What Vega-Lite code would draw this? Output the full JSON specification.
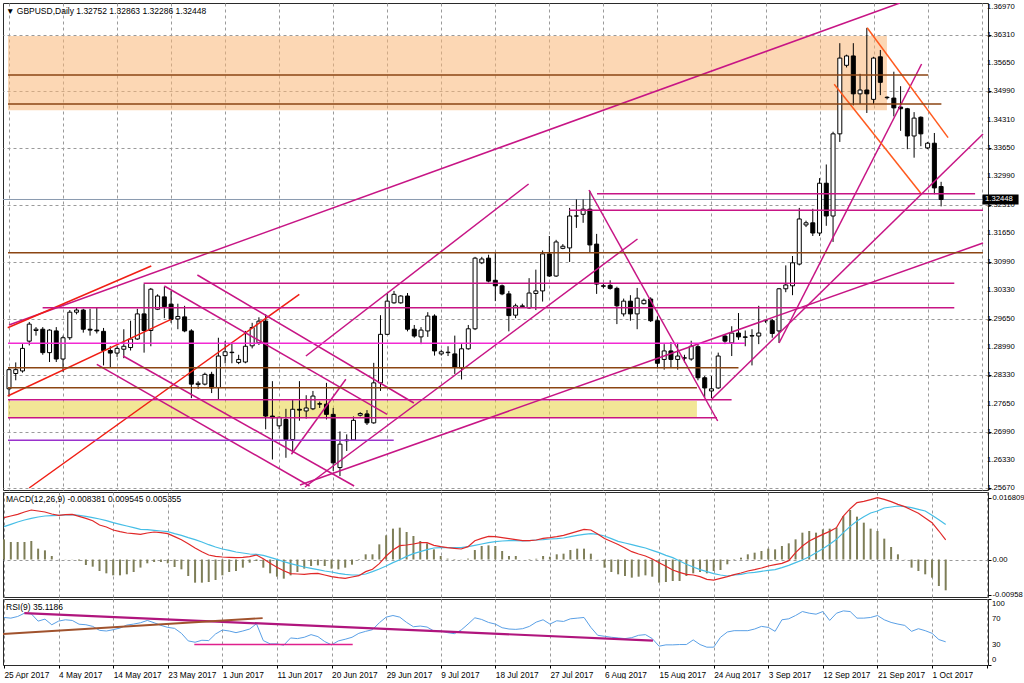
{
"$schema":"https://vega.github.io/schema/vega-lite/v6.json",
"background":"white",
"padding":{"left":2,"top":2,"right":0,"bottom":0},
"spacing":2,
"bounds":"flush",
"resolve":{"scale":{"color":"independent","strokeWidth":"independent"}},
"config":{
"view":{"stroke":"#2a2a2a","strokeWidth":1},
"font":"Liberation Sans",
"axis":{"labelFont":"Liberation Sans","labelColor":"#000","title":null,"domain":false,"gridColor":"#9a9a9a","gridDash":[3,3],"gridWidth":1,"tickColor":"#000","labelOverlap":false},
"title":{"font":"Liberation Sans","fontWeight":"normal","fontSize":8.5,"color":"#000","anchor":"start","frame":"group","orient":"top"}
},
"datasets":{
"candles":[
{"i":0,"o":1.2800,"h":1.2850,"l":1.2782,"c":1.2845},
{"i":1,"o":1.2836,"h":1.2862,"l":1.2820,"c":1.2845},
{"i":2,"o":1.2842,"h":1.2905,"l":1.2838,"c":1.2895},
{"i":3,"o":1.2912,"h":1.2957,"l":1.2902,"c":1.2952},
{"i":4,"o":1.2937,"h":1.2945,"l":1.2925,"c":1.2940},
{"i":5,"o":1.2940,"h":1.2945,"l":1.2880,"c":1.2885},
{"i":6,"o":1.2885,"h":1.2940,"l":1.2863,"c":1.2938},
{"i":7,"o":1.2936,"h":1.2945,"l":1.2863,"c":1.2870},
{"i":8,"o":1.2870,"h":1.2925,"l":1.2840,"c":1.2920},
{"i":9,"o":1.2920,"h":1.2985,"l":1.2915,"c":1.2980},
{"i":10,"o":1.2980,"h":1.2990,"l":1.2975,"c":1.2985},
{"i":11,"o":1.2985,"h":1.2988,"l":1.2932,"c":1.2940},
{"i":12,"o":1.2940,"h":1.2988,"l":1.2925,"c":1.2938},
{"i":13,"o":1.2938,"h":1.2990,"l":1.2930,"c":1.2936},
{"i":14,"o":1.2935,"h":1.2943,"l":1.2855,"c":1.2890},
{"i":15,"o":1.2890,"h":1.2900,"l":1.2850,"c":1.2884},
{"i":16,"o":1.2884,"h":1.2900,"l":1.2875,"c":1.2895},
{"i":17,"o":1.2893,"h":1.2940,"l":1.2872,"c":1.2900},
{"i":18,"o":1.2897,"h":1.2960,"l":1.2890,"c":1.2917},
{"i":19,"o":1.2917,"h":1.2988,"l":1.2915,"c":1.2976},
{"i":20,"o":1.2976,"h":1.3046,"l":1.2885,"c":1.2937},
{"i":21,"o":1.2937,"h":1.3037,"l":1.2900,"c":1.3034},
{"i":22,"o":1.2987,"h":1.3022,"l":1.2985,"c":1.3018},
{"i":23,"o":1.3016,"h":1.3040,"l":1.2966,"c":1.2993},
{"i":24,"o":1.2999,"h":1.3030,"l":1.2955,"c":1.2963},
{"i":25,"o":1.2964,"h":1.3000,"l":1.2940,"c":1.2970},
{"i":26,"o":1.2969,"h":1.2995,"l":1.2933,"c":1.2936},
{"i":27,"o":1.2936,"h":1.2940,"l":1.2778,"c":1.2811},
{"i":28,"o":1.2810,"h":1.2818,"l":1.2800,"c":1.2813},
{"i":29,"o":1.2811,"h":1.2838,"l":1.2808,"c":1.2834},
{"i":30,"o":1.2834,"h":1.2840,"l":1.2790,"c":1.2802},
{"i":31,"o":1.2803,"h":1.2920,"l":1.2776,"c":1.2877},
{"i":32,"o":1.2878,"h":1.2912,"l":1.2860,"c":1.2887},
{"i":33,"o":1.2886,"h":1.2910,"l":1.2860,"c":1.2885},
{"i":34,"o":1.2862,"h":1.2880,"l":1.2858,"c":1.2869},
{"i":35,"o":1.2863,"h":1.2936,"l":1.2860,"c":1.2900},
{"i":36,"o":1.2901,"h":1.2955,"l":1.2895,"c":1.2944},
{"i":37,"o":1.2908,"h":1.2968,"l":1.2903,"c":1.2959},
{"i":38,"o":1.2959,"h":1.2975,"l":1.2705,"c":1.2736},
{"i":39,"o":1.2736,"h":1.2818,"l":1.2634,"c":1.2732},
{"i":40,"o":1.2713,"h":1.2735,"l":1.2705,"c":1.2733},
{"i":41,"o":1.2728,"h":1.2753,"l":1.2638,"c":1.2681},
{"i":42,"o":1.2681,"h":1.2775,"l":1.2650,"c":1.2752},
{"i":43,"o":1.2752,"h":1.2818,"l":1.2725,"c":1.2750},
{"i":44,"o":1.2748,"h":1.2785,"l":1.2730,"c":1.2755},
{"i":45,"o":1.2753,"h":1.2795,"l":1.2750,"c":1.2783},
{"i":46,"o":1.2765,"h":1.2770,"l":1.2755,"c":1.2764},
{"i":47,"o":1.2764,"h":1.2814,"l":1.2728,"c":1.2740},
{"i":48,"o":1.2740,"h":1.2755,"l":1.2607,"c":1.2626},
{"i":49,"o":1.2615,"h":1.2700,"l":1.2595,"c":1.2670},
{"i":50,"o":1.2678,"h":1.2693,"l":1.2654,"c":1.2680},
{"i":51,"o":1.2680,"h":1.2735,"l":1.2678,"c":1.2726},
{"i":52,"o":1.2738,"h":1.2745,"l":1.2735,"c":1.2742},
{"i":53,"o":1.2741,"h":1.2750,"l":1.2715,"c":1.2720},
{"i":54,"o":1.2720,"h":1.2861,"l":1.2718,"c":1.2814},
{"i":55,"o":1.2814,"h":1.2973,"l":1.2795,"c":1.2928},
{"i":56,"o":1.2928,"h":1.3025,"l":1.2927,"c":1.3006},
{"i":57,"o":1.3002,"h":1.3030,"l":1.3000,"c":1.3022},
{"i":58,"o":1.3002,"h":1.3020,"l":1.3000,"c":1.3018},
{"i":59,"o":1.3018,"h":1.3025,"l":1.2935,"c":1.2940},
{"i":60,"o":1.2940,"h":1.2950,"l":1.2920,"c":1.2924},
{"i":61,"o":1.2922,"h":1.2945,"l":1.2905,"c":1.2938},
{"i":62,"o":1.2936,"h":1.2980,"l":1.2922,"c":1.2971},
{"i":63,"o":1.2971,"h":1.2975,"l":1.2878,"c":1.2889},
{"i":64,"o":1.2882,"h":1.2892,"l":1.2878,"c":1.2887},
{"i":65,"o":1.2885,"h":1.2900,"l":1.2877,"c":1.2886},
{"i":66,"o":1.2882,"h":1.2925,"l":1.2835,"c":1.2851},
{"i":67,"o":1.2849,"h":1.2905,"l":1.2822,"c":1.2894},
{"i":68,"o":1.2894,"h":1.2950,"l":1.2892,"c":1.2941},
{"i":69,"o":1.2941,"h":1.3110,"l":1.2938,"c":1.3107},
{"i":70,"o":1.3096,"h":1.3110,"l":1.3093,"c":1.3105},
{"i":71,"o":1.3107,"h":1.3115,"l":1.3050,"c":1.3053},
{"i":72,"o":1.3055,"h":1.3120,"l":1.3006,"c":1.3042},
{"i":73,"o":1.3042,"h":1.3045,"l":1.3020,"c":1.3023},
{"i":74,"o":1.3023,"h":1.3030,"l":1.2935,"c":1.2972},
{"i":75,"o":1.2973,"h":1.3000,"l":1.2966,"c":1.2995},
{"i":76,"o":1.2993,"h":1.3000,"l":1.2990,"c":1.2995},
{"i":77,"o":1.2990,"h":1.3060,"l":1.2988,"c":1.3025},
{"i":78,"o":1.3024,"h":1.3080,"l":1.2985,"c":1.3030},
{"i":79,"o":1.3030,"h":1.3125,"l":1.3005,"c":1.3117},
{"i":80,"o":1.3117,"h":1.3159,"l":1.3063,"c":1.3065},
{"i":81,"o":1.3065,"h":1.3150,"l":1.3063,"c":1.3145},
{"i":82,"o":1.3130,"h":1.3140,"l":1.3128,"c":1.3135},
{"i":83,"o":1.3131,"h":1.3225,"l":1.3098,"c":1.3206},
{"i":84,"o":1.3206,"h":1.3245,"l":1.3178,"c":1.3206},
{"i":85,"o":1.3210,"h":1.3245,"l":1.3190,"c":1.3222},
{"i":86,"o":1.3222,"h":1.3265,"l":1.3120,"c":1.3138},
{"i":87,"o":1.3140,"h":1.3164,"l":1.3023,"c":1.3046},
{"i":88,"o":1.3042,"h":1.3048,"l":1.3036,"c":1.3041},
{"i":89,"o":1.3043,"h":1.3055,"l":1.3033,"c":1.3036},
{"i":90,"o":1.3036,"h":1.3040,"l":1.2952,"c":1.2995},
{"i":91,"o":1.2976,"h":1.3012,"l":1.2970,"c":1.3006},
{"i":92,"o":1.3006,"h":1.3020,"l":1.2960,"c":1.2976},
{"i":93,"o":1.2976,"h":1.3037,"l":1.2940,"c":1.3013},
{"i":94,"o":1.3000,"h":1.3012,"l":1.2998,"c":1.3008},
{"i":95,"o":1.3011,"h":1.3015,"l":1.2957,"c":1.2960},
{"i":96,"o":1.2960,"h":1.2970,"l":1.2848,"c":1.2860},
{"i":97,"o":1.2869,"h":1.2905,"l":1.2845,"c":1.2889},
{"i":98,"o":1.2889,"h":1.2910,"l":1.2850,"c":1.2869},
{"i":99,"o":1.2869,"h":1.2908,"l":1.2845,"c":1.2877},
{"i":100,"o":1.2872,"h":1.2880,"l":1.2862,"c":1.2873},
{"i":101,"o":1.2870,"h":1.2913,"l":1.2866,"c":1.2900},
{"i":102,"o":1.2899,"h":1.2905,"l":1.2820,"c":1.2826},
{"i":103,"o":1.2826,"h":1.2830,"l":1.2780,"c":1.2802},
{"i":104,"o":1.2795,"h":1.2830,"l":1.2778,"c":1.2800},
{"i":105,"o":1.2802,"h":1.2885,"l":1.2800,"c":1.2877},
{"i":106,"o":1.2924,"h":1.2928,"l":1.2905,"c":1.2912},
{"i":107,"o":1.2908,"h":1.2947,"l":1.2877,"c":1.2931},
{"i":108,"o":1.2931,"h":1.2978,"l":1.2915,"c":1.2922},
{"i":109,"o":1.2922,"h":1.2937,"l":1.2900,"c":1.2921},
{"i":110,"o":1.2924,"h":1.2940,"l":1.2855,"c":1.2925},
{"i":111,"o":1.2924,"h":1.2995,"l":1.2905,"c":1.2931},
{"i":112,"o":1.2960,"h":1.2962,"l":1.2955,"c":1.2960},
{"i":113,"o":1.2960,"h":1.2964,"l":1.2920,"c":1.2930},
{"i":114,"o":1.2936,"h":1.3037,"l":1.2908,"c":1.3035},
{"i":115,"o":1.3035,"h":1.3090,"l":1.3027,"c":1.3044},
{"i":116,"o":1.3042,"h":1.3112,"l":1.3020,"c":1.3096},
{"i":117,"o":1.3093,"h":1.3225,"l":1.3090,"c":1.3199},
{"i":118,"o":1.3185,"h":1.3195,"l":1.3180,"c":1.3190},
{"i":119,"o":1.3190,"h":1.3223,"l":1.3159,"c":1.3166},
{"i":120,"o":1.3166,"h":1.3295,"l":1.3159,"c":1.3283},
{"i":121,"o":1.3283,"h":1.3327,"l":1.3183,"c":1.3206},
{"i":122,"o":1.3206,"h":1.3404,"l":1.3145,"c":1.3399},
{"i":123,"o":1.3399,"h":1.3612,"l":1.3380,"c":1.3577},
{"i":124,"o":1.3560,"h":1.3585,"l":1.3555,"c":1.3582},
{"i":125,"o":1.3582,"h":1.3612,"l":1.3466,"c":1.3493},
{"i":126,"o":1.3493,"h":1.3540,"l":1.3469,"c":1.3502},
{"i":127,"o":1.3502,"h":1.3648,"l":1.3448,"c":1.3493},
{"i":128,"o":1.3480,"h":1.3580,"l":1.3469,"c":1.3577},
{"i":129,"o":1.3580,"h":1.3596,"l":1.3490,"c":1.3520},
{"i":130,"o":1.3485,"h":1.3487,"l":1.3480,"c":1.3484},
{"i":131,"o":1.3483,"h":1.3545,"l":1.3440,"c":1.3460},
{"i":132,"o":1.3462,"h":1.3511,"l":1.3406,"c":1.3458},
{"i":133,"o":1.3458,"h":1.3460,"l":1.3363,"c":1.3394},
{"i":134,"o":1.3394,"h":1.3450,"l":1.3343,"c":1.3436},
{"i":135,"o":1.3438,"h":1.3440,"l":1.3370,"c":1.3399},
{"i":136,"o":1.3366,"h":1.3380,"l":1.3363,"c":1.3377},
{"i":137,"o":1.3377,"h":1.3401,"l":1.3257,"c":1.3272},
{"i":138,"o":1.32752,"h":1.32863,"l":1.32286,"c":1.32448}
],
"ind":[
{"i":0,"macd":0.01138,"sig":0.00893,"hist":0.00548,"rsi":72},
{"i":1,"macd":0.01183,"sig":0.00956,"hist":0.00476,"rsi":71},
{"i":2,"macd":0.01228,"sig":0.01020,"hist":0.00476,"rsi":73.5},
{"i":3,"macd":0.01292,"sig":0.01074,"hist":0.00476,"rsi":78.5},
{"i":4,"macd":0.01346,"sig":0.01120,"hist":0.00503,"rsi":77.5},
{"i":5,"macd":0.01319,"sig":0.01156,"hist":0.00295,"rsi":66.5},
{"i":6,"macd":0.01292,"sig":0.01183,"hist":0.00249,"rsi":69.5},
{"i":7,"macd":0.01237,"sig":0.01192,"hist":0.00095,"rsi":61},
{"i":8,"macd":0.01201,"sig":0.01201,"hist":0.00005,"rsi":66.5},
{"i":9,"macd":0.01219,"sig":0.01210,"hist":0.00005,"rsi":68.5},
{"i":10,"macd":0.01228,"sig":0.01219,"hist":0.00005,"rsi":67.5},
{"i":11,"macd":0.01174,"sig":0.01201,"hist":-0.0003,"rsi":61.8},
{"i":12,"macd":0.01120,"sig":0.01174,"hist":-0.0015,"rsi":61},
{"i":13,"macd":0.01056,"sig":0.01138,"hist":-0.00195,"rsi":58.5},
{"i":14,"macd":0.00938,"sig":0.01101,"hist":-0.00313,"rsi":52.5},
{"i":15,"macd":0.00884,"sig":0.01056,"hist":-0.00376,"rsi":51.5},
{"i":16,"macd":0.00802,"sig":0.01002,"hist":-0.00431,"rsi":53.5},
{"i":17,"macd":0.00757,"sig":0.00956,"hist":-0.00431,"rsi":56},
{"i":18,"macd":0.00721,"sig":0.00911,"hist":-0.00403,"rsi":60.5},
{"i":19,"macd":0.00703,"sig":0.00866,"hist":-0.00340,"rsi":62},
{"i":20,"macd":0.00684,"sig":0.00820,"hist":-0.0022,"rsi":64},
{"i":21,"macd":0.00721,"sig":0.00811,"hist":-0.00104,"rsi":67.5},
{"i":22,"macd":0.00748,"sig":0.00793,"hist":-0.00068,"rsi":64},
{"i":23,"macd":0.00730,"sig":0.00775,"hist":-0.00068,"rsi":60},
{"i":24,"macd":0.00703,"sig":0.00757,"hist":-0.00104,"rsi":57},
{"i":25,"macd":0.00621,"sig":0.00703,"hist":-0.00204,"rsi":55.5},
{"i":26,"macd":0.00539,"sig":0.00657,"hist":-0.00267,"rsi":48},
{"i":27,"macd":0.00431,"sig":0.00594,"hist":-0.00449,"rsi":36.5},
{"i":28,"macd":0.00313,"sig":0.00539,"hist":-0.00630,"rsi":34.5},
{"i":29,"macd":0.00213,"sig":0.00476,"hist":-0.00630,"rsi":37.5},
{"i":30,"macd":0.00122,"sig":0.00403,"hist":-0.00612,"rsi":37},
{"i":31,"macd":0.00086,"sig":0.00340,"hist":-0.00558,"rsi":47},
{"i":32,"macd":0.00068,"sig":0.00286,"hist":-0.00431,"rsi":53},
{"i":33,"macd":0.00059,"sig":0.00249,"hist":-0.00340,"rsi":51.5},
{"i":34,"macd":0.00050,"sig":0.00204,"hist":-0.00313,"rsi":49},
{"i":35,"macd":0.00059,"sig":0.00177,"hist":-0.00222,"rsi":51.5},
{"i":36,"macd":0.00077,"sig":0.00150,"hist":-0.00086,"rsi":54.5},
{"i":37,"macd":0.00122,"sig":0.00141,"hist":-0.00041,"rsi":62.5},
{"i":38,"macd":0.00023,"sig":0.00113,"hist":-0.00222,"rsi":37},
{"i":39,"macd":-0.00104,"sig":0.00059,"hist":-0.00376,"rsi":32},
{"i":40,"macd":-0.00213,"sig":0.00005,"hist":-0.00467,"rsi":32},
{"i":41,"macd":-0.00304,"sig":-0.00059,"hist":-0.00521,"rsi":30},
{"i":42,"macd":-0.00385,"sig":-0.00113,"hist":-0.00431,"rsi":41},
{"i":43,"macd":-0.00394,"sig":-0.00159,"hist":-0.00340,"rsi":40},
{"i":44,"macd":-0.00403,"sig":-0.00204,"hist":-0.00249,"rsi":42},
{"i":45,"macd":-0.00385,"sig":-0.00240,"hist":-0.00177,"rsi":46},
{"i":46,"macd":-0.00376,"sig":-0.00276,"hist":-0.00159,"rsi":43},
{"i":47,"macd":-0.00422,"sig":-0.00313,"hist":-0.00177,"rsi":35.5},
{"i":48,"macd":-0.00467,"sig":-0.00340,"hist":-0.00249,"rsi":30.5},
{"i":49,"macd":-0.00494,"sig":-0.00376,"hist":-0.00267,"rsi":36.5},
{"i":50,"macd":-0.00512,"sig":-0.00403,"hist":-0.00222,"rsi":39},
{"i":51,"macd":-0.00476,"sig":-0.00422,"hist":-0.00141,"rsi":42},
{"i":52,"macd":-0.00440,"sig":-0.00422,"hist":-0.00014,"rsi":48},
{"i":53,"macd":-0.0033,"sig":-0.00394,"hist":0.00141,"rsi":51},
{"i":54,"macd":-0.00267,"sig":-0.00331,"hist":0.00141,"rsi":53.5},
{"i":55,"macd":-0.00113,"sig":-0.00258,"hist":0.00412,"rsi":64},
{"i":56,"macd":0.00095,"sig":-0.00177,"hist":0.00657,"rsi":72.5},
{"i":57,"macd":0.00258,"sig":-0.00086,"hist":0.00839,"rsi":75},
{"i":58,"macd":0.00376,"sig":-0.00005,"hist":0.00866,"rsi":72.5},
{"i":59,"macd":0.00394,"sig":0.00086,"hist":0.00748,"rsi":64.5},
{"i":60,"macd":0.00422,"sig":0.00159,"hist":0.00639,"rsi":58},
{"i":61,"macd":0.00458,"sig":0.00213,"hist":0.00503,"rsi":59},
{"i":62,"macd":0.00458,"sig":0.00267,"hist":0.00440,"rsi":57.5},
{"i":63,"macd":0.00385,"sig":0.00313,"hist":0.00276,"rsi":51.5},
{"i":64,"macd":0.00349,"sig":0.00322,"hist":0.00095,"rsi":51.5},
{"i":65,"macd":0.00322,"sig":0.00322,"hist":0.00023,"rsi":49},
{"i":66,"macd":0.00304,"sig":0.00322,"hist":-0.00014,"rsi":47.5},
{"i":67,"macd":0.00286,"sig":0.00322,"hist":0.00005,"rsi":53},
{"i":68,"macd":0.00349,"sig":0.00349,"hist":0.00023,"rsi":62},
{"i":69,"macd":0.00512,"sig":0.00385,"hist":0.00258,"rsi":71.5},
{"i":70,"macd":0.00576,"sig":0.00422,"hist":0.00367,"rsi":69},
{"i":71,"macd":0.00630,"sig":0.00458,"hist":0.00385,"rsi":64.5},
{"i":72,"macd":0.00621,"sig":0.00485,"hist":0.00367,"rsi":62},
{"i":73,"macd":0.00594,"sig":0.00503,"hist":0.00231,"rsi":56.5},
{"i":74,"macd":0.00567,"sig":0.00512,"hist":0.00095,"rsi":54.5},
{"i":75,"macd":0.00539,"sig":0.00512,"hist":0.00095,"rsi":54},
{"i":76,"macd":0.00512,"sig":0.00503,"hist":0.0000,"rsi":55},
{"i":77,"macd":0.00512,"sig":0.00512,"hist":-0.00014,"rsi":58.5},
{"i":78,"macd":0.00530,"sig":0.00530,"hist":0.0002,"rsi":65},
{"i":79,"macd":0.00576,"sig":0.00539,"hist":0.00095,"rsi":68.5},
{"i":80,"macd":0.00594,"sig":0.00558,"hist":0.00077,"rsi":62},
{"i":81,"macd":0.00621,"sig":0.00567,"hist":0.00141,"rsi":67},
{"i":82,"macd":0.00657,"sig":0.00585,"hist":0.00159,"rsi":66},
{"i":83,"macd":0.00712,"sig":0.00621,"hist":0.00258,"rsi":70},
{"i":84,"macd":0.00766,"sig":0.00657,"hist":0.00295,"rsi":71},
{"i":85,"macd":0.00820,"sig":0.00684,"hist":0.00295,"rsi":72},
{"i":86,"macd":0.00802,"sig":0.00703,"hist":0.00159,"rsi":57},
{"i":87,"macd":0.00694,"sig":0.00684,"hist":0.00005,"rsi":45},
{"i":88,"macd":0.00570,"sig":0.00639,"hist":-0.00222,"rsi":43.5},
{"i":89,"macd":0.00490,"sig":0.00567,"hist":-0.00340,"rsi":42},
{"i":90,"macd":0.00410,"sig":0.00494,"hist":-0.00403,"rsi":41},
{"i":91,"macd":0.00313,"sig":0.00449,"hist":-0.00449,"rsi":40},
{"i":92,"macd":0.00213,"sig":0.00403,"hist":-0.00494,"rsi":41.5},
{"i":93,"macd":0.00150,"sig":0.00358,"hist":-0.00467,"rsi":45},
{"i":94,"macd":0.00095,"sig":0.00313,"hist":-0.00431,"rsi":46},
{"i":95,"macd":0.00014,"sig":0.00249,"hist":-0.00467,"rsi":40},
{"i":96,"macd":-0.00086,"sig":0.00186,"hist":-0.00630,"rsi":28.5},
{"i":97,"macd":-0.00186,"sig":0.00113,"hist":-0.00612,"rsi":30.5},
{"i":98,"macd":-0.00286,"sig":0.00050,"hist":-0.00585,"rsi":30.5},
{"i":99,"macd":-0.00349,"sig":-0.00041,"hist":-0.00585,"rsi":31},
{"i":100,"macd":-0.00403,"sig":-0.00131,"hist":-0.00449,"rsi":31},
{"i":101,"macd":-0.00422,"sig":-0.00204,"hist":-0.00376,"rsi":38},
{"i":102,"macd":-0.00467,"sig":-0.00276,"hist":-0.00340,"rsi":31},
{"i":103,"macd":-0.00539,"sig":-0.00331,"hist":-0.00376,"rsi":27},
{"i":104,"macd":-0.00558,"sig":-0.00385,"hist":-0.00313,"rsi":27},
{"i":105,"macd":-0.00512,"sig":-0.00422,"hist":-0.00286,"rsi":42},
{"i":106,"macd":-0.00467,"sig":-0.00449,"hist":-0.00131,"rsi":50},
{"i":107,"macd":-0.00412,"sig":-0.00422,"hist":-0.00014,"rsi":52},
{"i":108,"macd":-0.00367,"sig":-0.00403,"hist":0.00050,"rsi":52},
{"i":109,"macd":-0.00313,"sig":-0.00367,"hist":0.00141,"rsi":52},
{"i":110,"macd":-0.00276,"sig":-0.00349,"hist":0.00186,"rsi":54.5},
{"i":111,"macd":-0.00231,"sig":-0.00322,"hist":0.00231,"rsi":58.5},
{"i":112,"macd":-0.00177,"sig":-0.00295,"hist":0.00295,"rsi":57},
{"i":113,"macd":-0.00141,"sig":-0.00276,"hist":0.00276,"rsi":51},
{"i":114,"macd":-0.00104,"sig":-0.00222,"hist":0.00367,"rsi":68.5},
{"i":115,"macd":-0.00032,"sig":-0.00159,"hist":0.00440,"rsi":70},
{"i":116,"macd":0.00186,"sig":-0.00086,"hist":0.00548,"rsi":75},
{"i":117,"macd":0.00367,"sig":-0.00014,"hist":0.00730,"rsi":81},
{"i":118,"macd":0.00503,"sig":0.00077,"hist":0.00775,"rsi":78.5},
{"i":119,"macd":0.00594,"sig":0.00186,"hist":0.00730,"rsi":77},
{"i":120,"macd":0.00684,"sig":0.00295,"hist":0.00820,"rsi":81},
{"i":121,"macd":0.00766,"sig":0.00412,"hist":0.00839,"rsi":67.5},
{"i":122,"macd":0.00866,"sig":0.00548,"hist":0.00866,"rsi":78.5},
{"i":123,"macd":0.01183,"sig":0.00730,"hist":0.01183,"rsi":82},
{"i":124,"macd":0.01382,"sig":0.00902,"hist":0.01346,"rsi":81},
{"i":125,"macd":0.01546,"sig":0.01047,"hist":0.01165,"rsi":71},
{"i":126,"macd":0.01582,"sig":0.01165,"hist":0.01002,"rsi":71},
{"i":127,"macd":0.01627,"sig":0.01265,"hist":0.00839,"rsi":72},
{"i":128,"macd":0.01682,"sig":0.01319,"hist":0.00775,"rsi":75},
{"i":129,"macd":0.01636,"sig":0.01401,"hist":0.00567,"rsi":68.5},
{"i":130,"macd":0.01573,"sig":0.01428,"hist":0.00340,"rsi":64.5},
{"i":131,"macd":0.01500,"sig":0.01455,"hist":0.00141,"rsi":62},
{"i":132,"macd":0.01437,"sig":0.01437,"hist":0.00005,"rsi":60},
{"i":133,"macd":0.01346,"sig":0.01410,"hist":-0.00222,"rsi":51},
{"i":134,"macd":0.01256,"sig":0.01364,"hist":-0.00313,"rsi":55},
{"i":135,"macd":0.01129,"sig":0.01319,"hist":-0.00403,"rsi":52},
{"i":136,"macd":0.01002,"sig":0.01201,"hist":-0.00494,"rsi":48},
{"i":137,"macd":0.00775,"sig":0.01083,"hist":-0.00721,"rsi":38.5},
{"i":138,"macd":0.005355,"sig":0.009545,"hist":-0.008381,"rsi":35.1186}
],
"zones":[
{"x1":-0.147,"x2":129.98,"p1":1.34543,"p2":1.36289,"kind":"supply zone"},
{"x1":-0.147,"x2":101.85,"p1":1.27322,"p2":1.27714,"kind":"demand zone"}
],
"lines":[
{"x1":0,"p1":1.29499,"x2":131.89,"p2":1.37064,"kind":"trendline"},
{"x1":-0.19,"p1":1.29436,"x2":21.06,"p2":1.30885,"kind":"red trendline"},
{"x1":2.99,"p1":1.2567,"x2":42.98,"p2":1.30221,"kind":"red trendline"},
{"x1":-0.19,"p1":1.27831,"x2":23.99,"p2":1.29633,"kind":"red trendline"},
{"x1":27.89,"p1":1.30674,"x2":59.94,"p2":1.27667,"kind":"trendline"},
{"x1":23.0,"p1":1.30416,"x2":55.98,"p2":1.27401,"kind":"trendline"},
{"x1":16.9,"p1":1.28771,"x2":51.1,"p2":1.25717,"kind":"trendline"},
{"x1":13.0,"p1":1.28576,"x2":44.5,"p2":1.25717,"kind":"trendline"},
{"x1":43.96,"p1":1.28771,"x2":76.93,"p2":1.32812,"kind":"trendline"},
{"x1":41.81,"p1":1.26462,"x2":49.87,"p2":1.28224,"kind":"trendline"},
{"x1":43.82,"p1":1.25693,"x2":93.05,"p2":1.3152,"kind":"trendline"},
{"x1":43.08,"p1":1.2574,"x2":144.2,"p2":1.31426,"kind":"trendline"},
{"x1":85.87,"p1":1.32671,"x2":104.92,"p2":1.27244,"kind":"trendline"},
{"x1":104.05,"p1":1.27761,"x2":144.2,"p2":1.33987,"kind":"trendline"},
{"x1":114.01,"p1":1.29076,"x2":135.11,"p2":1.35631,"kind":"trendline"},
{"x1":127.05,"p1":1.36484,"x2":139.03,"p2":1.339,"kind":"channel"},
{"x1":122.17,"p1":1.35154,"x2":135.11,"p2":1.3257,"kind":"channel"},
{"x1":-0.147,"p1":1.35373,"x2":136.09,"p2":1.35373,"kind":"level"},
{"x1":-0.147,"p1":1.3469,"x2":138.04,"p2":1.3469,"kind":"level"},
{"x1":-0.147,"p1":1.31198,"x2":144.2,"p2":1.31198,"kind":"level"},
{"x1":-0.147,"p1":1.28496,"x2":108.0,"p2":1.28496,"kind":"level"},
{"x1":-0.147,"p1":1.28026,"x2":101.85,"p2":1.28026,"kind":"level"},
{"x1":87.05,"p1":1.32584,"x2":143.03,"p2":1.32584,"kind":"trendline"},
{"x1":82.94,"p1":1.32194,"x2":144.2,"p2":1.32194,"kind":"trendline"},
{"x1":19.93,"p1":1.30479,"x2":139.95,"p2":1.30479,"kind":"trendline"},
{"x1":4.98,"p1":1.29906,"x2":139.95,"p2":1.29906,"kind":"trendline"},
{"x1":-0.147,"p1":1.29069,"x2":108.98,"p2":1.29069,"kind":"pivot"},
{"x1":-0.147,"p1":1.27744,"x2":106.98,"p2":1.27744,"kind":"trendline"},
{"x1":-0.147,"p1":1.27322,"x2":104.82,"p2":1.27322,"kind":"trendline"},
{"x1":-0.147,"p1":1.26791,"x2":56.96,"p2":1.26791,"kind":"support"}
],
"rsiLines":[
{"x1":2.98,"v1":78.5,"x2":95.1,"v2":37,"kind":"falling"},
{"x1":-0.147,"v1":47,"x2":37.9,"v2":71,"kind":"rising"},
{"x1":27.89,"v1":31,"x2":51.1,"v2":31,"kind":"floor"}
],
"priceLevels":[
{"p":1.2567},{"p":1.2633},{"p":1.2699},{"p":1.2765},{"p":1.2833},{"p":1.2899},{"p":1.2965},{"p":1.3033},{"p":1.3099},
{"p":1.3165},{"p":1.3231},{"p":1.3299},{"p":1.3365},{"p":1.3431},{"p":1.3499},{"p":1.3565},{"p":1.3631},{"p":1.3697}
],
"rsiLevels":[{"v":100},{"v":70},{"v":30},{"v":0}],
"last":[{"p":1.32448}]
},
"vconcat":[
{
"width":985,"height":487,
"title":{"text":"▼ GBPUSD,Daily  1.32752 1.32863 1.32286 1.32448","offset":-12,"dx":3},
"layer":[
{"data":{"name":"zones"},"mark":{"type":"rect","opacity":0.55,"clip":true},
"encoding":{
"x":{"field":"x1","type":"quantitative","scale":{"domain":[-0.147,144.2],"nice":false,"zero":false},
"axis":{"values":[0,4,8,12,16,20,24,28,32,36,40,44,48,52,56,60,64,68,72,76,80,84,88,92,96,100,104,108,112,116,120,124,128,132,136,140,144],"labels":false,"ticks":false,"grid":true}},
"x2":{"field":"x2"},
"y":{"field":"p1","type":"quantitative","scale":{"domain":[1.25623,1.37064],"nice":false,"zero":false},
"axis":{"orient":"right","values":[1.2567,1.2633,1.2699,1.2765,1.2833,1.2899,1.2965,1.3033,1.3099,1.3165,1.3231,1.3299,1.3365,1.3431,1.3499,1.3565,1.3631,1.3697],"labels":false,"tickSize":3,"grid":true}},
"y2":{"field":"p2"},
"color":{"field":"kind","type":"nominal","scale":{"domain":["supply zone","demand zone","trendline","red trendline","channel","level","pivot","support"],"range":["#FAB677","#E7D240","#C71585","#F01E14","#FF5A1E","#8B4513","#F22AD2","#9932CC"]},"legend":null}
}},
{"data":{"name":"last"},"mark":{"type":"rule","color":"#8A9AB0","strokeWidth":1},
"encoding":{"y":{"field":"p","type":"quantitative"}}},
{"data":{"name":"candles"},"mark":{"type":"rule","color":"#000","strokeWidth":1,"clip":true},
"encoding":{"x":{"field":"i","type":"quantitative"},"y":{"field":"l","type":"quantitative"},"y2":{"field":"h"}}},
{"data":{"name":"candles"},"mark":{"type":"bar","width":4,"stroke":"#000","strokeWidth":1,"clip":true},
"encoding":{"x":{"field":"i","type":"quantitative"},"y":{"field":"o","type":"quantitative"},"y2":{"field":"c"},
"fill":{"condition":{"test":"datum.c >= datum.o","value":"#ffffff"},"value":"#000000"}}},
{"data":{"name":"lines"},"mark":{"type":"rule","strokeWidth":1.5,"clip":true},
"encoding":{"x":{"field":"x1","type":"quantitative"},"x2":{"field":"x2"},"y":{"field":"p1","type":"quantitative"},"y2":{"field":"p2"},
"color":{"field":"kind","type":"nominal","legend":null}}},
{"data":{"name":"priceLevels"},"mark":{"type":"text","align":"left","baseline":"middle","dx":4,"color":"#000","fontSize":7.7,"font":"Liberation Sans"},
"encoding":{"x":{"datum":144.2},"y":{"field":"p","type":"quantitative"},"text":{"field":"p","type":"quantitative","format":".5f"}}},
{"data":{"name":"last"},"mark":{"type":"tick","orient":"horizontal","size":36,"thickness":10,"color":"#000","opacity":1},
"encoding":{"x":{"datum":146.8},"y":{"field":"p","type":"quantitative"}}},
{"data":{"name":"last"},"mark":{"type":"text","align":"left","baseline":"middle","dx":2,"color":"#ffffff","fontSize":7.7,"font":"Liberation Sans"},
"encoding":{"x":{"datum":144.2},"y":{"field":"p","type":"quantitative"},"text":{"field":"p","type":"quantitative","format":".5f"}}}
]
},
{
"width":985,"height":105,
"title":{"text":"MACD(12,26,9) -0.008381 0.009545 0.005355","offset":-11,"dx":3},
"data":{"name":"ind"},
"layer":[
{"mark":{"type":"rule","color":"#7E7E58","strokeWidth":2,"clip":true},
"encoding":{
"x":{"field":"i","type":"quantitative","scale":{"domain":[-0.147,144.2],"nice":false,"zero":false},
"axis":{"values":[0,4,8,12,16,20,24,28,32,36,40,44,48,52,56,60,64,68,72,76,80,84,88,92,96,100,104,108,112,116,120,124,128,132,136,140,144],"labels":false,"ticks":false,"grid":true}},
"y":{"field":"hist","type":"quantitative","scale":{"domain":[-0.010198,0.018358],"nice":false,"zero":false},
"axis":{"orient":"right","values":[0.016809,0,-0.009581],"labelExpr":"datum.value === 0 ? '0.00' : (datum.value < 0 ? '-0.00958' : '0.016809')","labelFontSize":7.7,"tickSize":3,"labelPadding":1,"grid":true,
"gridOpacity":{"condition":{"test":"datum.value === 0","value":1},"value":0}}},
"y2":{"datum":0}
}},
{"mark":{"type":"line","color":"#46BEE6","strokeWidth":1.2,"clip":true},
"encoding":{"x":{"field":"i","type":"quantitative"},"y":{"field":"sig","type":"quantitative"}}},
{"mark":{"type":"line","color":"#E02828","strokeWidth":1.2,"clip":true},
"encoding":{"x":{"field":"i","type":"quantitative"},"y":{"field":"macd","type":"quantitative"}}}
]
},
{
"width":985,"height":66,
"title":{"text":"RSI(9) 35.1186","offset":-13,"dx":3},
"layer":[
{"data":{"name":"ind"},"mark":{"type":"line","color":"#5AA0E6","strokeWidth":1,"clip":true},
"encoding":{
"x":{"field":"i","type":"quantitative","scale":{"domain":[-0.147,144.2],"nice":false,"zero":false},
"axis":{"values":[0,4,8,12,16,20,24,28,32,36,40,44,48,52,56,60,64,68,72,76,80,84,88,92,96,100,104,108,112,116,120,124,128,132,136,140,144],
"labelExpr":"datum.value % 8 === 0 ? ['25 Apr 2017','4 May 2017','14 May 2017','23 May 2017','1 Jun 2017','11 Jun 2017','20 Jun 2017','29 Jun 2017','9 Jul 2017','18 Jul 2017','27 Jul 2017','6 Aug 2017','15 Aug 2017','24 Aug 2017','3 Sep 2017','12 Sep 2017','21 Sep 2017','1 Oct 2017'][datum.value / 8] : ''",
"labelAlign":"left","labelFontSize":8.3,"labelPadding":2,"tickSize":3,"grid":true,"labelOverlap":false,"labelBound":false,"labelFlush":false}},
"y":{"field":"rsi","type":"quantitative","scale":{"domain":[0,100],"nice":false,"zero":false},
"axis":{"orient":"right","values":[100,70,30,0],"labels":false,"tickSize":3,"grid":true,
"gridOpacity":{"condition":{"test":"datum.value === 70 || datum.value === 30","value":1},"value":0}}}
}},
{"data":{"name":"rsiLines"},"mark":{"type":"rule","clip":true},
"encoding":{"x":{"field":"x1","type":"quantitative"},"x2":{"field":"x2"},"y":{"field":"v1","type":"quantitative"},"y2":{"field":"v2"},
"color":{"field":"kind","type":"nominal","scale":{"domain":["falling","rising","floor"],"range":["#B0157D","#A0522D","#E0208C"]},"legend":null},
"strokeWidth":{"field":"kind","type":"nominal","scale":{"domain":["falling","rising","floor"],"range":[2.2,1.6,2]},"legend":null}}},
{"data":{"name":"rsiLevels"},"transform":[{"filter":"datum.v === 100"}],"mark":{"type":"text","align":"left","baseline":"top","dx":4,"dy":1,"color":"#000","fontSize":7.7,"font":"Liberation Sans"},
"encoding":{"x":{"datum":144.2},"y":{"field":"v","type":"quantitative"},"text":{"field":"v","type":"quantitative","format":"d"}}},
{"data":{"name":"rsiLevels"},"transform":[{"filter":"datum.v === 70 || datum.v === 30"}],"mark":{"type":"text","align":"left","baseline":"middle","dx":4,"color":"#000","fontSize":7.7,"font":"Liberation Sans"},
"encoding":{"x":{"datum":144.2},"y":{"field":"v","type":"quantitative"},"text":{"field":"v","type":"quantitative","format":"d"}}},
{"data":{"name":"rsiLevels"},"transform":[{"filter":"datum.v === 0"}],"mark":{"type":"text","align":"left","baseline":"bottom","dx":4,"dy":-1,"color":"#000","fontSize":7.7,"font":"Liberation Sans"},
"encoding":{"x":{"datum":144.2},"y":{"field":"v","type":"quantitative"},"text":{"field":"v","type":"quantitative","format":"d"}}}
]
}
]
}
